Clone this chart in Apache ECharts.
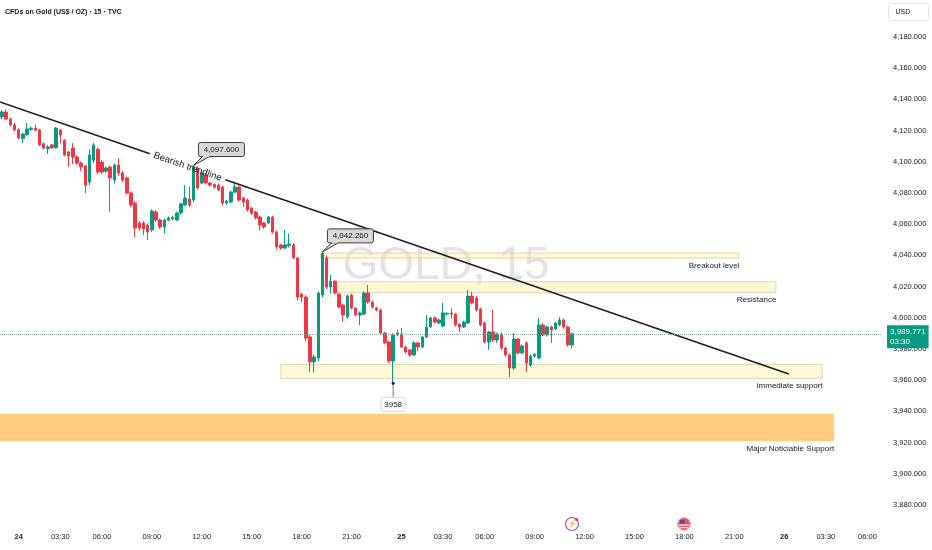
<!DOCTYPE html>
<html>
<head>
<meta charset="utf-8">
<script src="https://cdn.jsdelivr.net/npm/echarts@6/dist/echarts.min.js"></script>
<style>
html, body { margin: 0; padding: 0; background: #fff; }
#container { width: 932px; height: 550px; }
</style>
</head>
<body>
<div id="container"></div>
<script>
// 15 min candles, GOLD (TVC)
var opens = [4128.7,4131.9,4127.4,4123.6,4120.6,4114.8,4117.5,4120.8,4121.6,4120.4,4111.5,4108.5,4110.8,4109.0,4120.4,4113.8,4106.3,4108.8,4103.0,4099.2,
	4097.3,4087.0,4101.0,4108.0,4099.8,4094.0,4096.6,4088.3,4097.9,4092.8,4089.6,4080.0,4073.5,4060.8,4060.8,4059.5,4056.3,4067.8,4062.7,4058.2,
	4062.5,4063.5,4062.7,4067.2,4072.3,4076.2,4075.5,4096.0,4086.4,4091.5,4086.4,4085.5,4085.1,4083.8,4073.6,4074.2,4080.6,4083.8,4076.8,4075.5,
	4070.4,4067.8,4064.6,4060.8,4060.8,4064.6,4055.0,4046.7,4044.8,4046.2,4046.7,4038.4,4015.2,4013.3,3987.7,3971.7,3974.2,4014.6,4038.4,4019.7,
	4023.5,4015.2,4008.2,4000.5,4014.6,4006.3,4001.8,4002.4,4015.9,4010.1,4006.3,4005.0,3990.3,3984.5,3972.3,3989.0,3989.6,3981.3,3979.4,3976.2,
	3983.9,3981.3,3987.7,3994.1,3999.9,3996.7,3994.8,4002.4,4002.9,4002.4,3995.9,3994.1,3996.7,4013.9,4012.7,4005.6,3996.7,3984.5,3990.9,3985.8,
	3989.6,3980.6,3976.2,3967.8,3986.4,3977.5,3983.9,3969.7,3975.5,3974.2,3995.4,3989.0,3994.1,3992.8,3995.4,3998.6,3994.1,3982.6];
var closes = [4131.9,4127.4,4123.6,4120.4,4115.3,4117.8,4121.0,4121.6,4120.2,4110.8,4108.8,4109.5,4109.2,4121.6,4117.2,4104.4,4103.7,4103.0,4099.2,4096.7,
	4085.1,4104.4,4110.8,4093.5,4093.4,4096.0,4089.6,4097.9,4092.8,4088.3,4080.0,4072.3,4057.6,4057.6,4057.0,4055.0,4068.5,4062.7,4058.2,4062.7,
	4064.0,4064.5,4067.2,4073.0,4076.8,4072.3,4096.7,4083.2,4092.8,4086.4,4085.1,4083.8,4081.9,4073.6,4074.8,4080.6,4083.8,4075.5,4074.2,4069.1,
	4067.2,4064.0,4059.5,4058.2,4064.6,4055.0,4045.4,4044.8,4046.7,4047.3,4038.4,4013.3,4013.3,3987.0,3971.7,3974.9,4015.9,4041.5,4019.7,4023.5,
	4015.9,4006.9,4001.8,4014.0,4006.3,4001.8,4003.1,4015.9,4010.1,4006.9,4005.0,3990.3,3983.9,3972.3,3989.0,3990.3,3981.3,3978.1,3976.2,3983.9,
	3981.3,3987.7,3994.1,3999.9,3997.3,3998.6,4003.1,4002.9,4002.4,3995.4,3994.1,3997.3,4013.9,4009.5,4005.0,3995.4,3984.5,3990.9,3985.8,3989.6,
	3980.6,3976.2,3967.8,3986.4,3977.5,3982.0,3971.0,3975.5,3976.7,3995.4,3989.0,3994.1,3992.2,3996.7,3998.6,3994.1,3982.6,3989.771];
var lows = [4127.5,4126.5,4122.8,4119.5,4114.5,4112.1,4116.5,4119.8,4119.5,4110.0,4108.0,4105.0,4108.2,4108.5,4112.0,4103.5,4096.7,4098.5,4098.0,4094.0,
	4080.0,4085.0,4099.0,4092.0,4092.0,4093.0,4068.0,4086.0,4091.0,4087.0,4079.0,4071.0,4051.8,4056.0,4053.0,4049.9,4055.0,4061.5,4057.0,4054.0,
	4062.0,4062.5,4062.0,4066.0,4071.5,4071.0,4074.0,4082.0,4085.5,4085.5,4084.0,4082.8,4081.0,4072.0,4072.5,4073.5,4080.0,4074.5,4071.0,4068.0,
	4066.0,4063.0,4056.0,4057.0,4060.0,4054.0,4044.0,4043.5,4044.0,4045.0,4037.5,4011.0,4010.0,3985.0,3965.2,3965.0,3972.0,4013.0,4018.5,4015.5,
	4015.0,4006.0,3997.3,3999.5,4005.5,4001.0,3995.4,4001.5,4009.0,4006.0,4004.0,3989.5,3983.0,3971.0,3958.0,3988.0,3980.5,3977.0,3975.0,3975.5,
	3978.5,3980.5,3987.0,3993.5,3996.5,3996.0,3994.0,4001.5,3999.5,3994.5,3991.0,3993.5,3996.0,4008.5,4004.0,3994.5,3983.5,3979.4,3984.5,3984.0,
	3979.5,3975.0,3962.0,3966.5,3976.5,3976.5,3965.2,3968.5,3974.5,3973.5,3988.0,3988.0,3983.9,3992.0,3994.5,3993.0,3981.5,3980.5];
var highs = [4133.0,4133.5,4128.5,4125.0,4121.5,4118.5,4125.0,4122.5,4124.0,4121.0,4112.5,4110.8,4111.5,4122.3,4121.0,4114.5,4107.0,4112.0,4104.0,4100.0,
	4098.0,4108.0,4112.1,4109.0,4101.0,4097.0,4097.5,4099.0,4102.4,4094.0,4090.5,4081.0,4074.5,4062.0,4062.0,4060.5,4069.5,4069.0,4063.5,4063.5,
	4065.0,4065.5,4068.0,4074.0,4085.1,4084.0,4097.6,4097.0,4094.0,4093.0,4087.0,4086.0,4086.0,4084.5,4075.5,4081.5,4087.0,4085.0,4077.5,4076.5,
	4071.0,4068.5,4065.5,4061.5,4065.5,4065.5,4056.0,4047.5,4056.3,4054.0,4048.0,4039.0,4016.0,4014.5,3989.0,3976.5,4017.0,4042.26,4040.0,4027.5,
	4024.0,4016.0,4009.0,4015.0,4015.5,4007.0,4004.0,4017.0,4021.0,4011.0,4007.0,4006.0,3991.0,3985.0,3990.0,3992.2,3993.5,3982.0,3980.0,3985.0,
	3984.5,3988.5,4001.8,4000.8,4001.0,3999.5,4009.5,4003.5,4006.0,4003.0,3996.5,3998.0,4017.8,4016.5,4014.0,4006.5,3997.5,3991.5,4005.0,3990.5,
	3990.5,3981.5,3977.0,3990.0,3987.0,3983.0,3985.0,3976.5,3977.5,3999.9,3996.5,3995.0,3995.0,3997.5,4000.5,3999.5,3995.0,3990.5];

// time axis: 212 slots of 15 min, labelled slots only
var slotCount = 212;
var tickIndex = [4, 14, 24, 36, 48, 60, 72, 84, 96, 106, 116, 128, 140, 152, 164, 176, 188, 198, 208];
var tickText = ['24', '03:30', '06:00', '09:00', '12:00', '15:00', '18:00', '21:00', '25', '03:30', '06:00', '09:00', '12:00', '15:00', '18:00', '21:00', '26', '03:30', '06:00'];

// drawn levels (slot index from / to, price low / high)
var zoneNames = ['Breakout level', 'Resistance', 'immediate support', 'Major Noticiable Support'];
var zoneFrom = [76.6, 80.2, 67, -0.5];
var zoneTo = [177.1, 186, 197.1, 200];
var zoneLow = [4038.3, 4016.3, 3961.2, 3920.8];
var zoneHigh = [4041.5, 4023.1, 3970.2, 3938.5];

// trendline
var trendStart = [-0.5, 4138.3];
var trendEnd = [189.1, 3964.0];
var trendLabelAt = 44.6;

// price callouts
var calloutIdx = [46, 77];
var calloutPrice = [4097.6, 4042.26];
var lowIdx = 94;
var lowPrice = 3958;

var lastPrice = 3989.771;
var countdown = '03:30';

var FONT = "'Liberation Sans', Arial, sans-serif";
var TEXT = '#131722';
var UP = '#089981';
var DOWN = '#F23645';

function fmt(v) {
	var s = v.toFixed(3).split('.');
	return s[0].replace(/\B(?=(\d{3})+(?!\d))/g, ',') + '.' + s[1];
}

var categories = [];
for (var i = 0; i < slotCount; i++) {
	categories.push(String(i));
}

var candles = [];
for (var j = 0; j < opens.length; j++) {
	candles.push([opens[j], closes[j], lows[j], highs[j]]);
}

var zoneAreas = zoneNames.map(function (name, k) {
	var major = k === 3;
	return [{
		name: name,
		xAxis: zoneFrom[k],
		yAxis: zoneHigh[k],
		itemStyle: major ? { color: '#FFCC80', borderWidth: 0 } :
			{ color: 'rgba(255,236,140,0.35)', borderColor: '#DDD7AE', borderWidth: 1 },
		label: {
			show: true,
			position: ['100%', '100%'],
			align: 'right',
			verticalAlign: 'top',
			padding: [3, 0, 0, 0],
			color: TEXT,
			fontSize: 8,
			fontFamily: FONT
		}
	}, {
		xAxis: zoneTo[k],
		yAxis: zoneLow[k]
	}];
});

var myChart = echarts.init(document.getElementById('container'));

myChart.setOption({
	animation: false,
	textStyle: { fontFamily: FONT },
	title: {
		text: 'CFDs on Gold (US$ / OZ) · 15 · TVC',
		left: 0,
		top: 4,
		textStyle: { fontSize: 7, fontWeight: 'bold', color: TEXT, fontFamily: FONT }
	},
	graphic: [{
		type: 'text',
		x: 446,
		y: 266,
		z: 0,
		silent: true,
		style: {
			text: 'GOLD, 15',
			fontSize: 46,
			fontFamily: FONT,
			fill: 'rgba(120,123,134,0.22)',
			align: 'center',
			verticalAlign: 'middle'
		}
	}, {
		type: 'group',
		right: 3,
		top: 3,
		children: [{
			type: 'rect',
			shape: { x: 0, y: 0, width: 40, height: 17, r: 3 },
			style: { fill: '#fff', stroke: '#e0e3eb', lineWidth: 1 }
		}, {
			type: 'text',
			x: 7,
			y: 8.5,
			style: { text: 'USD', fontSize: 7, fill: TEXT, verticalAlign: 'middle', fontFamily: FONT }
		}]
	}, {
		type: 'group',
		x: 572,
		y: 524,
		children: [{
			type: 'circle',
			shape: { cx: 0, cy: 0, r: 6.5 },
			style: { fill: '#fff', stroke: '#AB47BC', lineWidth: 1.2 }
		}, {
			type: 'text',
			style: { text: '⚡', fontSize: 7, fill: '#AB47BC', align: 'center', verticalAlign: 'middle' }
		}, {
			type: 'circle',
			shape: { cx: 4.5, cy: -4.5, r: 1.6 },
			style: { fill: DOWN }
		}]
	}, {
		type: 'group',
		x: 684,
		y: 524,
		children: [{
			type: 'circle',
			shape: { cx: 0, cy: 0, r: 6.5 },
			style: { fill: '#EF5350', stroke: '#F8BBD0', lineWidth: 1.2 }
		}, {
			type: 'rect',
			shape: { x: -4, y: -4, width: 4.5, height: 3.5 },
			style: { fill: '#3F51B5' }
		}, {
			type: 'rect',
			shape: { x: -5, y: 0.5, width: 10, height: 1.2 },
			style: { fill: '#fff' }
		}, {
			type: 'rect',
			shape: { x: -4.5, y: 3, width: 9, height: 1.2 },
			style: { fill: '#fff' }
		}]
	}],
	grid: {
		left: 0,
		right: 50,
		top: 21.4,
		bottom: 29.4
	},
	xAxis: [{
		type: 'category',
		data: categories,
		boundaryGap: true,
		axisLine: { show: false },
		axisTick: { show: false },
		splitLine: { show: false },
		axisLabel: {
			interval: function (idx) { return tickIndex.indexOf(idx) >= 0; },
			formatter: function (value, idx) {
				var k = tickIndex.indexOf(idx);
				if (k < 0) return '';
				var t = tickText[k];
				return t.indexOf(':') < 0 ? '{day|' + t + '}' : t;
			},
			rich: { day: { fontWeight: 'bold', fontSize: 7.5, color: TEXT } },
			margin: 12,
			fontSize: 7.5,
			color: TEXT
		}
	}, {
		type: 'value',
		min: -0.5,
		max: slotCount - 0.5,
		show: false
	}],
	yAxis: {
		type: 'value',
		position: 'right',
		min: 3870,
		max: 4190,
		minInterval: 20,
		maxInterval: 20,
		scale: true,
		axisLine: { show: false },
		axisTick: { show: false },
		splitLine: { show: false },
		axisLabel: {
			showMinLabel: false,
			showMaxLabel: false,
			margin: 11,
			fontSize: 7.5,
			color: TEXT,
			formatter: function (v) {
				if (v % 20 !== 0 || v < 3880 || v > 4180) return '';
				return fmt(v);
			}
		}
	},
	series: [{
		name: 'zones',
		type: 'line',
		xAxisIndex: 1,
		data: [],
		z: 1,
		markArea: {
			silent: true,
			data: zoneAreas
		}
	}, {
		name: 'GOLD',
		type: 'candlestick',
		xAxisIndex: 0,
		barWidth: 3,
		z: 3,
		data: candles,
		itemStyle: {
			color: UP,
			color0: DOWN,
			borderColor: UP,
			borderColor0: DOWN,
			borderWidth: 1
		},
		markLine: {
			silent: true,
			symbol: ['none', 'none'],
			z: 10,
			lineStyle: { type: 'dotted', color: '#8aa39d', width: 1 },
			label: {
				position: 'end',
				distance: 5,
				offset: [0, 3],
				formatter: fmt(lastPrice) + '\n' + countdown,
				backgroundColor: UP,
				color: '#fff',
				padding: [2, 3, 2, 3],
				fontSize: 8,
				lineHeight: 9.5,
				align: 'left'
			},
			data: [{ yAxis: lastPrice }]
		}
	}, {
		name: 'trendline',
		type: 'custom',
		xAxisIndex: 1,
		silent: true,
		z: 4,
		data: [[trendStart[0], trendStart[1], trendEnd[0], trendEnd[1], trendLabelAt]],
		renderItem: function (params, api) {
			var a = api.coord([api.value(0), api.value(1)]);
			var b = api.coord([api.value(2), api.value(3)]);
			var dx = b[0] - a[0], dy = b[1] - a[1];
			var len = Math.sqrt(dx * dx + dy * dy);
			var ux = dx / len, uy = dy / len;
			var mx = api.coord([api.value(4), api.value(1)])[0];
			var t = (mx - a[0]) / dx;
			var m = [a[0] + dx * t, a[1] + dy * t];
			var gap = 40;
			var ls = { stroke: '#1c1c1c', lineWidth: 1.5 };
			return {
				type: 'group',
				children: [{
					type: 'line',
					shape: { x1: a[0], y1: a[1], x2: m[0] - ux * gap, y2: m[1] - uy * gap },
					style: ls
				}, {
					type: 'line',
					shape: { x1: m[0] + ux * gap, y1: m[1] + uy * gap, x2: b[0], y2: b[1] },
					style: ls
				}, {
					type: 'text',
					x: m[0],
					y: m[1],
					rotation: -Math.atan2(dy, dx),
					style: {
						text: 'Bearish trendline',
						align: 'center',
						verticalAlign: 'middle',
						fontSize: 9.5,
						fontFamily: FONT,
						fill: TEXT
					}
				}]
			};
		}
	}, {
		name: 'callouts',
		type: 'custom',
		xAxisIndex: 1,
		silent: true,
		z: 5,
		data: calloutIdx.map(function (x, k) { return [x, calloutPrice[k]]; }),
		renderItem: function (params, api) {
			var p = api.coord([api.value(0), api.value(1)]);
			var w = 46, h = 14;
			var bx = p[0] + 5, by = p[1] - 9 - h;
			var st = { fill: '#d9d9d9', stroke: '#3a3a3a', lineWidth: 1 };
			return {
				type: 'group',
				children: [{
					type: 'polygon',
					shape: { points: [[bx + 4, by + h], [bx + 11, by + h], [p[0], p[1]]] },
					style: st
				}, {
					type: 'rect',
					shape: { x: bx, y: by, width: w, height: h, r: 2 },
					style: st
				}, {
					type: 'rect',
					shape: { x: bx + 4.5, y: by + h - 1.5, width: 6, height: 2 },
					style: { fill: '#d9d9d9' }
				}, {
					type: 'text',
					x: bx + w / 2,
					y: by + h / 2,
					style: {
						text: fmt(api.value(1)),
						align: 'center',
						verticalAlign: 'middle',
						fontSize: 8,
						fontFamily: FONT,
						fill: TEXT
					}
				}]
			};
		}
	}, {
		name: 'low',
		type: 'custom',
		xAxisIndex: 1,
		silent: true,
		z: 5,
		data: [[lowIdx, lowPrice]],
		renderItem: function (params, api) {
			var p = api.coord([api.value(0), api.value(1)]);
			return {
				type: 'group',
				children: [{
					type: 'line',
					shape: { x1: p[0], y1: p[1], x2: p[0], y2: p[1] + 14 },
					style: { stroke: '#787b86', lineWidth: 1 }
				}, {
					type: 'circle',
					shape: { cx: p[0], cy: p[1], r: 1.5 },
					style: { fill: TEXT }
				}, {
					type: 'rect',
					shape: { x: p[0] - 12, y: p[1] + 14, width: 24, height: 14, r: 2 },
					style: { fill: '#fff', stroke: '#d1d4dc', lineWidth: 1 }
				}, {
					type: 'text',
					x: p[0],
					y: p[1] + 21,
					style: {
						text: String(api.value(1)),
						align: 'center',
						verticalAlign: 'middle',
						fontSize: 8,
						fontFamily: FONT,
						fill: TEXT
					}
				}]
			};
		}
	}]
});

window.addEventListener('resize', function () {
	myChart.resize();
});
</script>
</body>
</html>
